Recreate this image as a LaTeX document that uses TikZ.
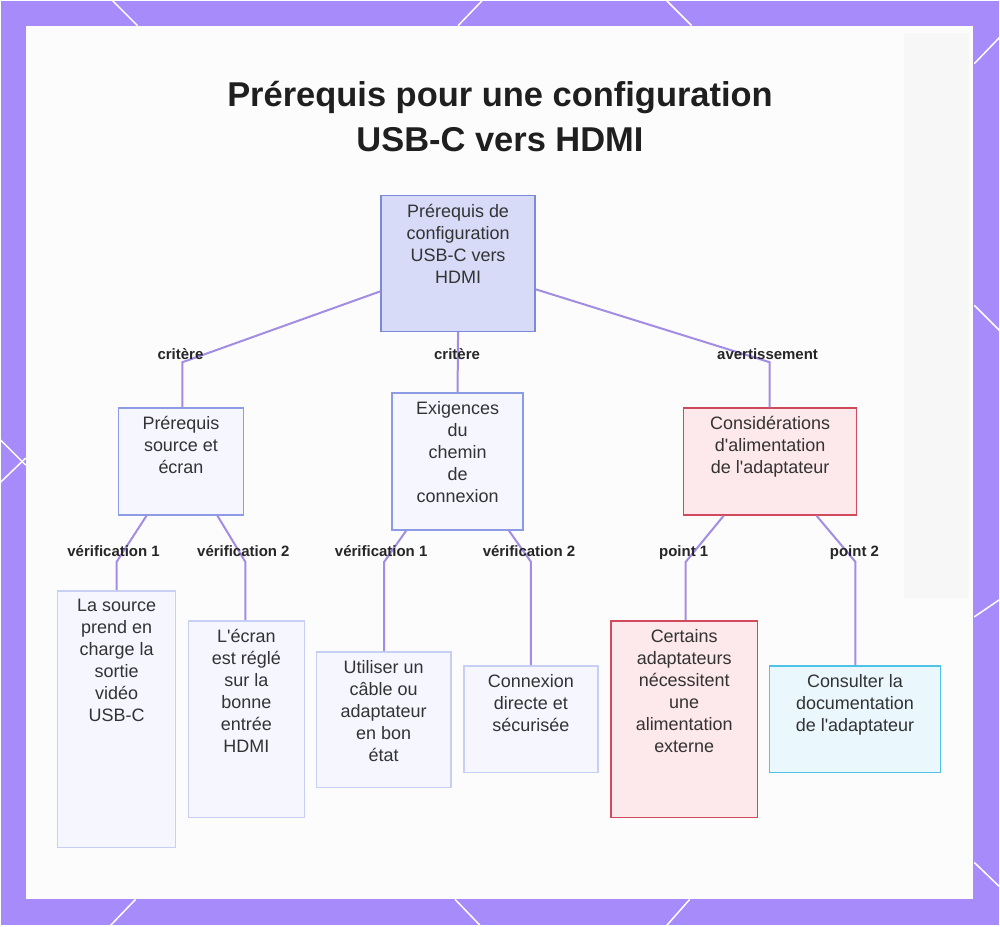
\documentclass[tikz,border=0pt]{standalone}
\usepackage{fontspec}
\setmainfont{Liberation Sans}
\usepackage{xcolor}
\usepackage{tikz}
\usetikzlibrary{positioning,calc}
\definecolor{bgpurple}{RGB}{167,139,250}
\definecolor{linkpurple}{RGB}{163,140,228}
\definecolor{textgray}{RGB}{51,51,51}
\definecolor{rootfill}{RGB}{215,219,248}
\definecolor{rootdraw}{RGB}{124,138,217}
\definecolor{midfill}{RGB}{245,246,254}
\definecolor{middraw}{RGB}{140,155,227}
\definecolor{leafdraw}{RGB}{200,207,245}
\definecolor{warnfill}{RGB}{253,232,236}
\definecolor{warndraw}{RGB}{208,74,92}
\definecolor{infofill}{RGB}{234,247,253}
\definecolor{infodraw}{RGB}{79,195,230}
\newcommand{\apos}{\textquotesingle}
\tikzset{
  pq box/.style={
    rectangle,
    inner sep=0pt,
    line width=1.5pt,
  },
  pq root/.style={pq box, fill=rootfill, draw=rootdraw},
  pq mid/.style={pq box, fill=midfill, draw=middraw},
  pq leaf/.style={pq box, fill=midfill, draw=leafdraw},
  pq warn/.style={pq box, fill=warnfill, draw=warndraw},
  pq info/.style={pq box, fill=infofill, draw=infodraw},
  pq text/.style={
    anchor=north,
    align=center,
    inner sep=0pt,
    text=textgray,
    font=\fontsize{18}{22}\selectfont,
  },
  pq label/.style={
    inner sep=1pt,
    text height=11pt,
    text depth=3pt,
    text=black!85,
    font=\bfseries\fontsize{15}{17}\selectfont,
  },
  pq link/.style={draw=linkpurple, line width=2pt},
  pq deco/.style={draw=white, line width=1.5pt},
}

\begin{document}
\begin{tikzpicture}[x=1pt,y=-1pt]
  % frame
  \fill[bgpurple] (0,0) rectangle (1000,926);
  \draw[pq deco] (112,0) -- (137,25);
  \draw[pq deco] (482,0) -- (458,25);
  \draw[pq deco] (667,0) -- (692,25);
  \draw[pq deco] (1000,37) -- (975,63);
  \draw[pq deco] (975,305) -- (1000,330);
  \draw[pq deco] (975,617) -- (1000,600);
  \draw[pq deco] (975,863) -- (1000,887);
  \draw[pq deco] (0,440) -- (25,465);
  \draw[pq deco] (0,482) -- (25,458);
  \draw[pq deco] (110,926) -- (135,900);
  \draw[pq deco] (455,900) -- (480,926);
  \draw[pq deco] (667,926) -- (690,900);
  \fill[white!99!black] (25,25) rectangle (974,900);
  \fill[black!3] (905,32) rectangle (970,598);
  \useasboundingbox (0,0) rectangle (1000,926);

  \node[font=\bfseries\fontsize{34.5}{45}\selectfont, align=center, text=black!88] (title) at (500,116)
    {Prérequis pour une configuration\\USB-C vers HDMI};

  % boxes
  \node[pq root, minimum width=154pt, minimum height=136pt] (root) at (458,263) {};
  \node[pq mid, minimum width=125pt, minimum height=107pt] (src) at (180.5,461.5) {};
  \node[pq mid, minimum width=131pt, minimum height=137pt] (path) at (457.5,461.5) {};
  \node[pq warn, minimum width=173pt, minimum height=107pt] (power) at (770.5,461.5) {};
  \node[pq leaf, minimum width=118pt, minimum height=257pt] (usbc) at (116,719.5) {};
  \node[pq leaf, minimum width=116pt, minimum height=197pt] (hdmi) at (246,719.5) {};
  \node[pq leaf, minimum width=135pt, minimum height=136pt] (cable) at (383.5,720) {};
  \node[pq leaf, minimum width=134pt, minimum height=107pt] (direct) at (531,719.5) {};
  \node[pq warn, minimum width=147pt, minimum height=197pt] (extpower) at (684.5,719.5) {};
  \node[pq info, minimum width=171pt, minimum height=107pt] (docs) at (855.5,719.5) {};

  % texts
  \node[pq text] (root-t) at ([yshift=-9pt]root.north) {Prérequis de\\configuration\\USB-C vers\\HDMI};
  \node[pq text] (src-t) at ([yshift=-9pt]src.north) {Prérequis\\source et\\écran};
  \node[pq text] (path-t) at ([yshift=-9pt]path.north) {Exigences\\du\\chemin\\de\\connexion};
  \node[pq text] (power-t) at ([yshift=-9pt]power.north) {Considérations\\d\apos alimentation\\de l\apos adaptateur};
  \node[pq text] (usbc-t) at ([yshift=-9pt]usbc.north) {La source\\prend en\\charge la\\sortie\\vidéo\\USB-C};
  \node[pq text] (hdmi-t) at ([yshift=-9pt]hdmi.north) {L\apos écran\\est réglé\\sur la\\bonne\\entrée\\HDMI};
  \node[pq text] (cable-t) at ([yshift=-9pt]cable.north) {Utiliser un\\câble ou\\adaptateur\\en bon\\état};
  \node[pq text] (direct-t) at ([yshift=-9pt]direct.north) {Connexion\\directe et\\sécurisée};
  \node[pq text] (extpower-t) at ([yshift=-9pt]extpower.north) {Certains\\adaptateurs\\nécessitent\\une\\alimentation\\externe};
  \node[pq text] (docs-t) at ([yshift=-9pt]docs.north) {Consulter la\\documentation\\de l\apos adaptateur};

  % bends
  \coordinate (k-src) at (182,362);
  \coordinate (k-power) at (770,362);
  \coordinate (k-usbc) at (116,562);
  \coordinate (k-hdmi) at (245,562);
  \coordinate (k-cable) at (384,562);
  \coordinate (k-direct) at (531,562);
  \coordinate (k-extpower) at (686,562);
  \coordinate (k-docs) at (856,562);

  % links
  \draw[pq link] ([yshift=-28pt]root.west) -- (k-src) -- (k-src |- src.north);
  \draw[pq link] (root.south) -- (path.north);
  \draw[pq link] ([yshift=-26pt]root.east) -- (k-power) -- (k-power |- power.north);
  \draw[pq link] ([xshift=-34.5pt]src.south) -- (k-usbc) -- (k-usbc |- usbc.north);
  \draw[pq link] ([xshift=36.5pt]src.south) -- (k-hdmi) -- (k-hdmi |- hdmi.north);
  \draw[pq link] ([xshift=-51.5pt]path.south) -- (k-cable) -- (k-cable |- cable.north);
  \draw[pq link] ([xshift=51.5pt]path.south) -- (k-direct) -- (k-direct |- direct.north);
  \draw[pq link] ([xshift=-46.5pt]power.south) -- (k-extpower) -- (k-extpower |- extpower.north);
  \draw[pq link] ([xshift=46.5pt]power.south) -- (k-docs) -- (k-docs |- docs.north);

  % labels
  \node[pq label] (l-src) at (180,355) {critère};
  \node[pq label] (l-path) at (457,355) {critère};
  \node[pq label] (l-power) at (768,355) {avertissement};
  \node[pq label] (l-usbc) at (113,553) {vérification 1};
  \node[pq label] (l-hdmi) at (243,553) {vérification 2};
  \node[pq label] (l-cable) at (381,553) {vérification 1};
  \node[pq label] (l-direct) at (529,553) {vérification 2};
  \node[pq label] (l-extpower) at (684,553) {point 1};
  \node[pq label] (l-docs) at (855,553) {point 2};
\end{tikzpicture}
\end{document}
